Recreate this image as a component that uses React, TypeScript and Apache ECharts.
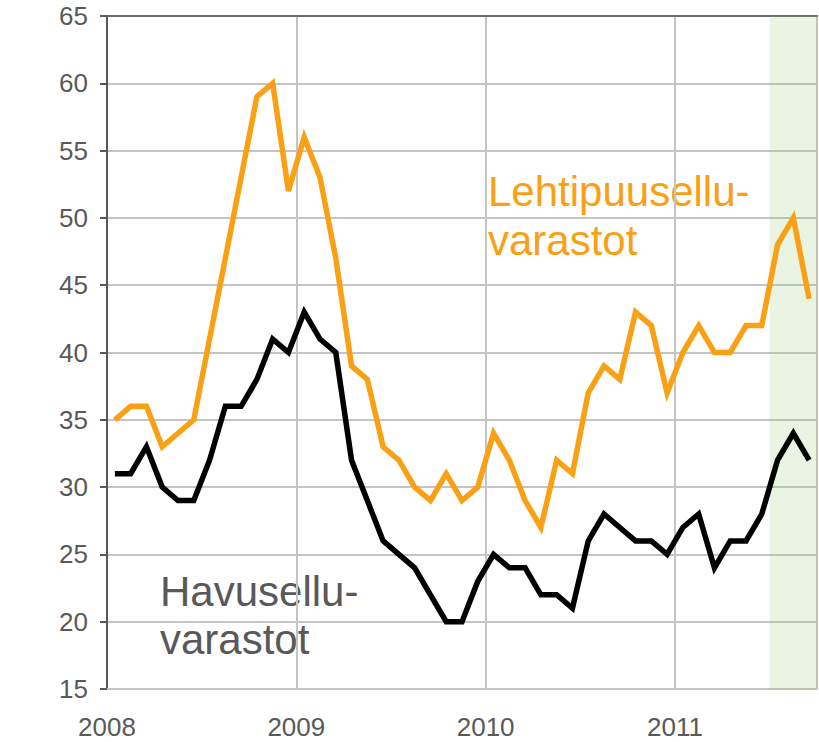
import React, { useEffect, useRef } from "react";
import * as echarts from "echarts";

const years = [2008, 2009, 2010, 2011];
const monthCount = 45; // Jan 2008 .. Sep 2011
const categories: string[] = [];
for (let i = 0; i < monthCount; i++) {
  const y = years[0] + Math.floor(i / 12);
  const m = (i % 12) + 1;
  categories.push(`${y}-${m < 10 ? "0" + m : m}`);
}

// Havusellu (softwood pulp) stocks
const havuValues = [
  31, 31, 33, 30, 29, 29, 32, 36, 36, 38, 41, 40,
  43, 41, 40, 32, 29, 26, 25, 24, 22, 20, 20, 23,
  25, 24, 24, 22, 22, 21, 26, 28, 27, 26, 26, 25,
  27, 28, 24, 26, 26, 28, 32, 34, 32,
];

// Lehtipuusellu (hardwood pulp) stocks
const lehtiValues = [
  35, 36, 36, 33, 34, 35, 41, 47, 53, 59, 60, 52,
  56, 53, 47, 39, 38, 33, 32, 30, 29, 31, 29, 30,
  34, 32, 29, 27, 32, 31, 37, 39, 38, 43, 42, 37,
  40, 42, 40, 40, 42, 42, 48, 50, 44,
];

const shadeFrom = "2011-07";
const yMin = 15;
const yMax = 65;
const yStep = 5;
const yearTickLabels = ["2008", "2009", "2010", "2011"];

const shadeValues = categories.map((c) => (c >= shadeFrom ? yMax : null));

const App: React.FC = () => {
  const ref = useRef<HTMLDivElement>(null);
  useEffect(() => {
    document.body.style.margin = "0";
    if (!ref.current) return;
    const chart = echarts.init(ref.current, null, { renderer: "svg" });
    const font = "Arial, 'Liberation Sans', sans-serif";
    chart.setOption({
      animation: false,
      grid: { left: 107, right: 2, top: 16, bottom: 53, containLabel: false },
      xAxis: [
        {
          type: "category",
          data: categories,
          boundaryGap: true,
          position: "bottom",
          axisLine: { show: true, lineStyle: { color: "#C4C4C4", width: 2 } },
          axisTick: { show: false },
          axisLabel: { show: false },
          splitLine: {
            show: true,
            interval: (i: number) => i > 0 && i % 12 === 0,
            lineStyle: { color: "#C4C4C4", width: 2 },
          },
        },
        {
          type: "value",
          min: 0,
          max: monthCount,
          interval: 12,
          position: "bottom",
          axisLine: { show: false },
          axisTick: { show: false },
          splitLine: { show: false },
          axisLabel: {
            show: true,
            showMaxLabel: false,
            margin: 25,
            fontSize: 26,
            fontFamily: font,
            color: "#595959",
            formatter: (v: number) =>
              v % 12 === 0 && v < monthCount ? yearTickLabels[v / 12] : "",
          },
        },
        {
          type: "category",
          data: categories,
          position: "top",
          axisLine: { show: true, lineStyle: { color: "#6A6A6A", width: 2 } },
          axisTick: { show: false },
          axisLabel: { show: false },
          splitLine: { show: false },
        },
      ],
      yAxis: {
        type: "value",
        min: yMin,
        max: yMax,
        interval: yStep,
        axisLine: { show: true, lineStyle: { color: "#595959", width: 2 } },
        axisTick: { show: true, length: 7, lineStyle: { color: "#595959", width: 2 } },
        axisLabel: {
          margin: 19,
          fontSize: 26,
          fontFamily: font,
          color: "#595959",
        },
        splitLine: { show: true, lineStyle: { color: "#C4C4C4", width: 2 } },
      },
      series: [
        {
          type: "bar",
          xAxisIndex: 0,
          data: shadeValues,
          barWidth: "100%",
          itemStyle: { color: "rgba(150,200,110,0.2)" },
          silent: true,
          z: 1,
        },
        {
          name: "Lehtipuusellu",
          type: "line",
          xAxisIndex: 0,
          data: lehtiValues,
          symbol: "none",
          lineStyle: { color: "#FAA014", width: 5.5, join: "miter", cap: "butt" },
          z: 3,
        },
        {
          name: "Havusellu",
          type: "line",
          xAxisIndex: 0,
          data: havuValues,
          symbol: "none",
          lineStyle: { color: "#000000", width: 5.5, join: "miter", cap: "butt" },
          z: 3,
        },
      ],
      graphic: [
        {
          type: "text",
          x: 488,
          y: 191,
          style: {
            text: "Lehtipuusellu-",
            font: `42px ${font}`,
            fill: "#FAA014",
            verticalAlign: "middle",
          },
        },
        {
          type: "text",
          x: 488,
          y: 240,
          style: {
            text: "varastot",
            font: `42px ${font}`,
            fill: "#FAA014",
            verticalAlign: "middle",
          },
        },
        {
          type: "text",
          x: 160,
          y: 591,
          style: {
            text: "Havusellu-",
            font: `42px ${font}`,
            fill: "#595959",
            verticalAlign: "middle",
          },
        },
        {
          type: "text",
          x: 160,
          y: 639,
          style: {
            text: "varastot",
            font: `42px ${font}`,
            fill: "#595959",
            verticalAlign: "middle",
          },
        },
      ],
    });
    return () => chart.dispose();
  }, []);
  return <div ref={ref} style={{ width: 819, height: 742 }} />;
};

export default App;
